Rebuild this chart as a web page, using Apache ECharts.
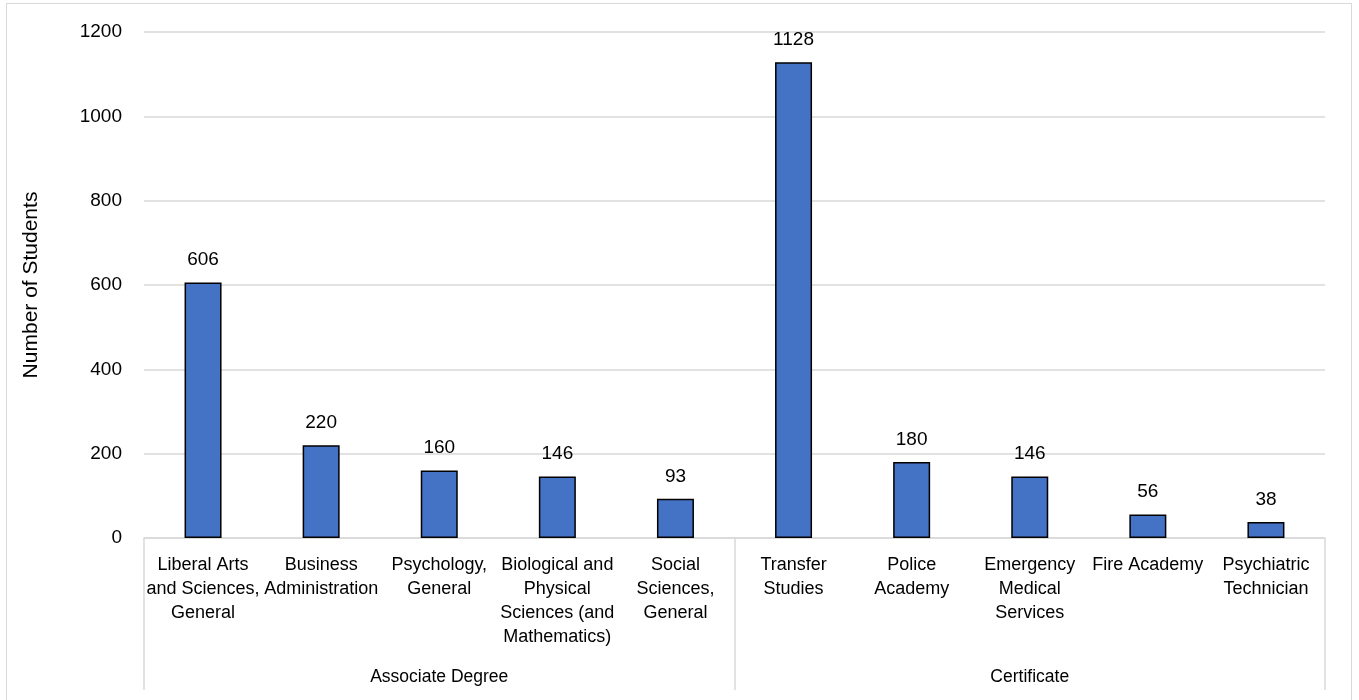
<!DOCTYPE html>
<html>
<head>
<meta charset="utf-8">
<script src="https://cdn.jsdelivr.net/npm/echarts@6/dist/echarts.min.js"></script>
<style>
html,body{margin:0;padding:0;background:#fff;}
#frame{position:absolute;left:6px;top:3px;width:1346px;height:720px;border:1px solid #d9d9d9;box-sizing:border-box;}
#chart{position:absolute;left:0;top:0;width:1359px;height:700px;}
</style>
</head>
<body>
<div id="frame"></div>
<div id="chart"></div>
<script>
const categories = [
  "Liberal Arts\nand Sciences,\nGeneral",
  "Business\nAdministration",
  "Psychology,\nGeneral",
  "Biological and\nPhysical\nSciences (and\nMathematics)",
  "Social\nSciences,\nGeneral",
  "Transfer\nStudies",
  "Police\nAcademy",
  "Emergency\nMedical\nServices",
  "Fire Academy",
  "Psychiatric\nTechnician"
];
const values = [606, 220, 160, 146, 93, 1128, 180, 146, 56, 38];
const groups = ["Associate Degree", "Certificate"];
const yTicks = {min: 0, max: 1200, interval: 200};

const font = "'Liberation Sans', Arial, sans-serif";
const chart = echarts.init(document.getElementById('chart'), null, {renderer: 'canvas'});
chart.setOption({
  animation: false,
  textStyle: {fontFamily: font},
  grid: {left: 144, right: 34, top: 32, bottom: 162, containLabel: false},
  xAxis: [
    {
      type: 'category',
      data: categories,
      position: 'bottom',
      axisLine: {show: true, lineStyle: {color: '#d9d9d9', width: 1.5}},
      axisTick: {show: false},
      axisLabel: {interval: 0, color: '#000', fontSize: 18, fontFamily: font, lineHeight: 24, margin: 15}
    },
    {
      type: 'category',
      data: groups,
      position: 'bottom',
      axisLine: {show: false},
      axisTick: {show: true, inside: false, length: 152, alignWithLabel: false, lineStyle: {color: '#d9d9d9', width: 1.5}},
      axisLabel: {interval: 0, color: '#000', fontSize: 17.5, fontFamily: font, margin: 130}
    }
  ],
  yAxis: {
    type: 'value',
    min: yTicks.min, max: yTicks.max, interval: yTicks.interval,
    name: 'Number of Students',
    nameLocation: 'middle',
    nameGap: 102,
    nameRotate: 90,
    nameTextStyle: {color: '#000', fontSize: 21, fontFamily: font},
    axisLine: {show: false},
    axisTick: {show: false},
    axisLabel: {color: '#000', fontSize: 19, fontFamily: font, margin: 22, formatter: v => String(v)},
    splitLine: {lineStyle: {color: '#d9d9d9', width: 1.5}}
  },
  series: [{
    type: 'bar',
    data: values,
    xAxisIndex: 0,
    barWidth: 37,
    itemStyle: {color: '#4472C4', borderColor: '#000', borderWidth: 1.5},
    label: {show: true, position: 'top', distance: 13, color: '#000', fontSize: 19, fontFamily: font}
  }]
});
</script>
</body>
</html>
